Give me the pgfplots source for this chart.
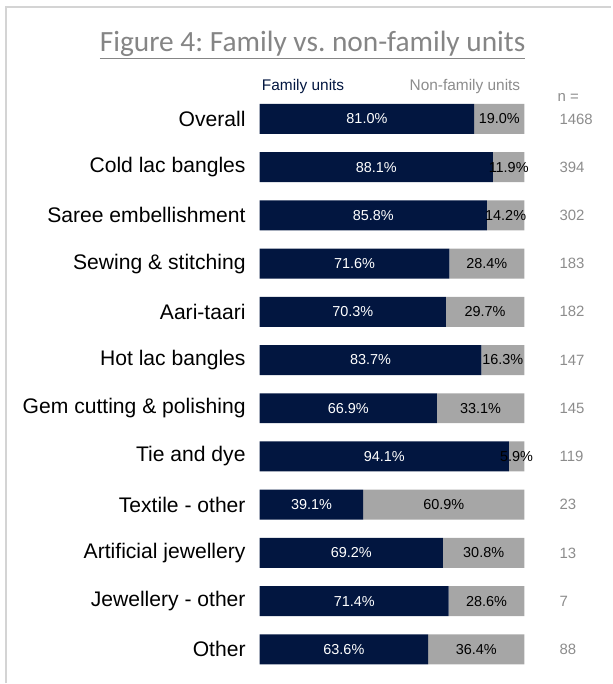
\documentclass[border=0pt]{standalone}
\usepackage{pgfplots}
\pgfplotsset{compat=1.18}
\usepackage{pgfplotstable}
\usepackage{fontspec}
\setmainfont{Liberation Sans}
\newfontfamily\titlefont{Carlito}
\frenchspacing
\definecolor{navy}{HTML}{021640}
\definecolor{bargrey}{HTML}{A6A6A6}
\definecolor{ngrey}{HTML}{8C8C8C}
\definecolor{titlegrey}{HTML}{858585}
\definecolor{framegrey}{HTML}{D4D4D4}

\pgfplotstableread{
idx fam non n
0 81.0 19.0 1468
1 88.1 11.9 394
2 85.8 14.2 302
3 71.6 28.4 183
4 70.3 29.7 182
5 83.7 16.3 147
6 66.9 33.1 145
7 94.1 5.9 119
8 39.1 60.9 23
9 69.2 30.8 13
10 71.4 28.6 7
11 63.6 36.4 88
}\data

\begin{document}
\begin{tikzpicture}
\path (0,0) rectangle (612bp,684bp);
\draw[framegrey, line width=1.5bp] (6bp,0) -- (6bp,677bp) -- (612bp,677bp);
\node[text=titlegrey, anchor=center] at (313bp,639bp) {\titlefont\fontsize{29.5}{33}\selectfont\underline{Figure 4: Family vs. non-family units}};
\node[text=navy, anchor=west, inner sep=0pt] at (262bp,597bp) {\fontsize{15.5}{18}\selectfont Family units};
\node[text=ngrey, anchor=east, inner sep=0pt] at (521bp,597bp) {\fontsize{15.5}{18}\selectfont Non-family units};
\node[text=ngrey, anchor=west, inner sep=0pt] at (558bp,586bp) {\fontsize{15}{18}\selectfont n =};

\begin{axis}[
  at={(260bp,9.8bp)}, anchor=south west,
  scale only axis, width=265bp, height=579.3bp,
  xmin=0, xmax=100, ymin=-0.5, ymax=11.5, y dir=reverse,
  xbar stacked, bar width=30bp,
  axis line style={draw=none}, major tick length=0pt,
  xtick=\empty, ytick={0,...,11},
  yticklabels={Overall, Cold lac bangles, Saree embellishment, Sewing \& stitching, Aari-taari, Hot lac bangles, Gem cutting \& polishing, Tie and dye, Textile - other, Artificial jewellery, Jewellery - other, Other},
  yticklabel style={font=\fontsize{21.2}{24}\selectfont, inner sep=0pt, xshift=-14bp, anchor=east},
]
\addplot[fill=navy, draw=none] table[x=fam, y=idx]{\data};
\addplot[fill=bargrey, draw=none] table[x=non, y=idx]{\data};
\end{axis}

\begin{axis}[
  at={(260bp,9.8bp)}, anchor=south west,
  scale only axis, width=265bp, height=579.3bp,
  xmin=0, xmax=100, ymin=-0.5, ymax=11.5, y dir=reverse,
  axis line style={draw=none}, major tick length=0pt,
  xtick=\empty, ytick={0,...,11},
  yticklabel pos=right,
  yticklabels={1468,394,302,183,182,147,145,119,23,13,7,88},
  yticklabel style={font=\fontsize{15}{18}\selectfont, text=ngrey, inner sep=0pt, xshift=35bp, anchor=west},
  /pgf/number format/assume math mode=true,
  nodes near coords={\pgfmathprintnumber[fixed,fixed zerofill,precision=1,assume math mode=true]{\pgfplotspointmeta}\%},
  nodes near coords align=center,
]
\addplot[only marks, mark=*, mark size=0pt, mark options={draw=none,fill=none}, point meta=\thisrow{fam},
  every node near coord/.style={anchor=center, text=white, font=\fontsize{14.5}{17}\selectfont}]
  table[x expr=\thisrow{fam}/2, y=idx]{\data};
\addplot[only marks, mark=*, mark size=0pt, mark options={draw=none,fill=none}, point meta=\thisrow{non},
  every node near coord/.style={anchor=center, text=black, font=\fontsize{14.5}{17}\selectfont}]
  table[x expr=\thisrow{fam}+\thisrow{non}/2, y=idx]{\data};
\end{axis}
\end{tikzpicture}
\end{document}
